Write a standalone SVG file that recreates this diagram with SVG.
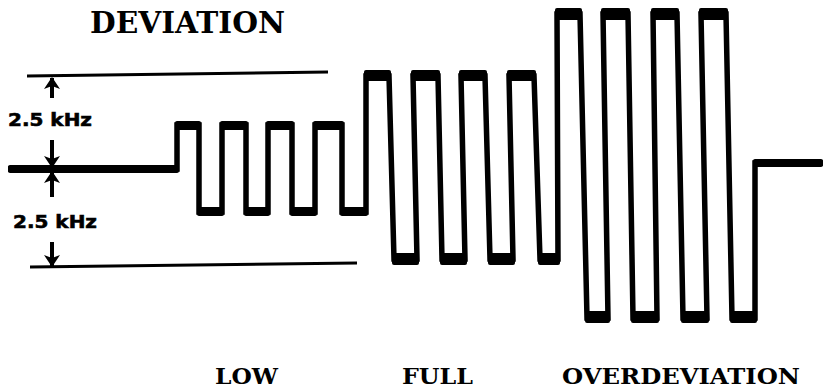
<svg xmlns="http://www.w3.org/2000/svg" width="828" height="392" viewBox="0 0 828 392">
  <style>
    .title { font-family: "DejaVu Serif", "Liberation Serif", serif; font-weight: bold; fill: #000; }
    .dim { font-family: "DejaVu Sans", "Liberation Sans", sans-serif; font-weight: bold; font-size: 18px; fill: #000; stroke: #000; stroke-width: 0.6; }
    .ref { stroke: #000; stroke-width: 3; fill: none; }
    .wave { stroke: #000; stroke-width: 5.5; fill: none; stroke-linejoin: miter; }
    .bar { fill: #000; }
    .arr { stroke: #000; stroke-width: 4; fill: none; marker-end: url(#head); }
  </style>
  <defs>
    <marker id="head" viewBox="0 0 12 16" refX="11" refY="8" markerWidth="12" markerHeight="16" markerUnits="userSpaceOnUse" orient="auto">
      <path d="M0,0 L12,8 L0,16 L3,8 Z" fill="#000"/>
    </marker>
  </defs>
  <rect width="828" height="392" fill="#fff"/>

  <text class="title" x="90" y="33" font-size="29" textLength="195" lengthAdjust="spacingAndGlyphs">DEVIATION</text>

  <g id="reference-lines">
    <line class="ref" x1="27" y1="76" x2="328" y2="72"/>
    <line class="ref" x1="30" y1="267" x2="357" y2="263"/>
  </g>

  <g id="dimension-arrows">
    <line class="arr" x1="52" y1="98" x2="52" y2="78"/>
    <line class="arr" x1="52" y1="140" x2="52" y2="167"/>
    <line class="arr" x1="52" y1="197" x2="52" y2="172"/>
    <line class="arr" x1="52" y1="242" x2="52" y2="266"/>
    <text class="dim" x="8" y="126" textLength="84" lengthAdjust="spacingAndGlyphs">2.5 kHz</text>
    <text class="dim" x="13" y="228" textLength="84" lengthAdjust="spacingAndGlyphs">2.5 kHz</text>
  </g>

  <g id="waveform">
    <path class="wave" d="M8,169 H177 V125 H199 V212 H222 V125 H246 V212 H268 V125 H292 V212 H315 V125 H342 V212 H366 V76 H389 L394,259 H417 L413,76 H438 L442,259 H465 L461,76 H485 L490,259 H513 L509,76 H534 L540,259 H558 L557,14 H580 L587,318 H608 L603,14 H628 L633,318 H657 L653,14 H677 L683,318 H707 L701,14 H726 L732,318 H755 V163 H823"/>
    <rect class="bar" x="8" y="165" width="171" height="8" rx="2"/>
    <rect class="bar" x="753" y="159" width="70" height="8" rx="2"/>
    <!-- low -->
    <rect class="bar" x="175" y="121" width="26" height="9" rx="2"/>
    <rect class="bar" x="220" y="121" width="28" height="9" rx="2"/>
    <rect class="bar" x="266" y="121" width="28" height="9" rx="2"/>
    <rect class="bar" x="313" y="121" width="31" height="9" rx="2"/>
    <rect class="bar" x="197" y="207" width="27" height="9" rx="2"/>
    <rect class="bar" x="244" y="207" width="26" height="9" rx="2"/>
    <rect class="bar" x="290" y="207" width="27" height="9" rx="2"/>
    <rect class="bar" x="340" y="207" width="28" height="9" rx="2"/>
    <!-- full -->
    <rect class="bar" x="364" y="70" width="27" height="11" rx="2"/>
    <rect class="bar" x="411" y="70" width="29" height="11" rx="2"/>
    <rect class="bar" x="459" y="70" width="28" height="11" rx="2"/>
    <rect class="bar" x="507" y="70" width="29" height="11" rx="2"/>
    <rect class="bar" x="392" y="253" width="27" height="12" rx="2"/>
    <rect class="bar" x="440" y="253" width="27" height="12" rx="2"/>
    <rect class="bar" x="488" y="253" width="27" height="12" rx="2"/>
    <rect class="bar" x="538" y="253" width="22" height="12" rx="2"/>
    <!-- over -->
    <rect class="bar" x="555" y="8" width="27" height="12" rx="2"/>
    <rect class="bar" x="601" y="8" width="29" height="12" rx="2"/>
    <rect class="bar" x="651" y="8" width="28" height="12" rx="2"/>
    <rect class="bar" x="699" y="8" width="29" height="12" rx="2"/>
    <rect class="bar" x="585" y="311" width="25" height="12" rx="2"/>
    <rect class="bar" x="631" y="311" width="28" height="12" rx="2"/>
    <rect class="bar" x="681" y="311" width="28" height="12" rx="2"/>
    <rect class="bar" x="730" y="311" width="27" height="12" rx="2"/>
  </g>

  <g id="labels">
    <text class="title" x="215" y="384" font-size="23" textLength="63" lengthAdjust="spacingAndGlyphs">LOW</text>
    <text class="title" x="402" y="384" font-size="23" textLength="71" lengthAdjust="spacingAndGlyphs">FULL</text>
    <text class="title" x="562" y="384" font-size="23" textLength="238" lengthAdjust="spacingAndGlyphs">OVERDEVIATION</text>
  </g>
</svg>
